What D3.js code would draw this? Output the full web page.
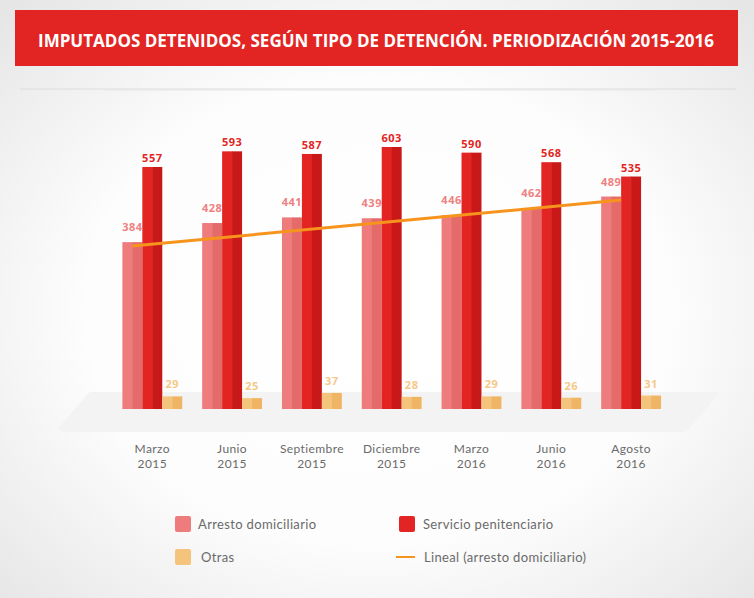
<!DOCTYPE html>
<html><head><meta charset="utf-8">
<script src="https://cdn.jsdelivr.net/npm/d3@7"></script>
<style>html,body{margin:0;padding:0;background:#fff;}svg{display:block;}</style>
</head><body>
<script>
const title = "IMPUTADOS DETENIDOS, SEGÚN TIPO DE DETENCIÓN. PERIODIZACIÓN 2015-2016";
const categories = [["Marzo","2015"],["Junio","2015"],["Septiembre","2015"],["Diciembre","2015"],["Marzo","2016"],["Junio","2016"],["Agosto","2016"]];
const seriesNames = ["Arresto domiciliario","Servicio penitenciario","Otras"];
const arresto = [384,428,441,439,446,462,489];
const servicio = [557,593,587,603,590,568,535];
const otras = [29,25,37,28,29,26,31];
const trendName = "Lineal (arresto domiciliario)";
const trendEnds = [375,481];

const W=754,H=598;
const svg=d3.select("body").append("svg").attr("width",W).attr("height",H);
const defs=svg.append("defs");
const rg=defs.append("radialGradient").attr("id","bg").attr("cx","50%").attr("cy","52%").attr("r","70%");
rg.append("stop").attr("offset","0%").attr("stop-color","#ffffff");
rg.append("stop").attr("offset","55%").attr("stop-color","#fdfdfd");
rg.append("stop").attr("offset","100%").attr("stop-color","#e6e6e6");
svg.append("rect").attr("width",W).attr("height",H).attr("fill","url(#bg)");

// header
svg.append("rect").attr("x",15).attr("y",10).attr("width",723).attr("height",56).attr("fill","#e22522");
svg.append("text").attr("x",376).attr("y",47).attr("text-anchor","middle")
  .attr("font-family","'Open Sans', sans-serif").attr("font-weight",700).attr("font-size",17)
  .attr("fill","#fff").attr("textLength",676).attr("lengthAdjust","spacingAndGlyphs").text(title);
svg.append("line").attr("x1",20).attr("x2",736).attr("y1",89).attr("y2",89).attr("stroke","#dcdcdc").attr("stroke-width",1);
svg.append("line").attr("x1",105).attr("x2",655).attr("y1",90).attr("y2",90).attr("stroke","#e6e6e6").attr("stroke-width",1);

// floor
svg.append("path").attr("d","M92,392 L716,392 Q720,392 717,396 L690,428 Q687,432 682,432 L64,432 Q56,432 60,426 L86,396 Q88,392 92,392 Z")
  .attr("fill","#f3f3f3");

// scales
const x=d3.scaleBand().domain(d3.range(categories.length)).range([112.4,671]).paddingInner(0.25).paddingOuter(0.125);
const xs=d3.scaleBand().domain([0,1,2]).range([0,x.bandwidth()]);
const y=d3.scaleLinear().domain([0,700]).range([409,409-700*0.4345]);

const series=[
 {vals:arresto,light:"#ef7c7c",dark:"#e56b6b",lab:"#ef8080",dy:-11},
 {vals:servicio,light:"#e22522",dark:"#c91818",lab:"#e22522",dy:-5},
 {vals:otras,light:"#f4c47c",dark:"#efb565",lab:"#f5c987",dy:-8}
];
const g=svg.append("g");
series.forEach((s,si)=>{
  const bw=xs.bandwidth();
  const gg=g.append("g");
  gg.selectAll("rect.l").data(s.vals).join("rect")
    .attr("x",(d,i)=>x(i)+xs(si)).attr("y",d=>y(d)).attr("width",bw/2+0.5).attr("height",d=>y(0)-y(d)).attr("fill",s.light);
  gg.selectAll("rect.r").data(s.vals).join("rect")
    .attr("x",(d,i)=>x(i)+xs(si)+bw/2).attr("y",d=>y(d)).attr("width",bw/2).attr("height",d=>y(0)-y(d)).attr("fill",s.dark);
});
// labels
series.forEach((s,si)=>{
  g.append("g").selectAll("text").data(s.vals).join("text")
   .attr("x",(d,i)=>x(i)+xs(si)+xs.bandwidth()/2).attr("y",d=>y(d)+s.dy)
   .attr("text-anchor","middle").attr("font-family","'Open Sans', sans-serif").attr("font-weight",700)
   .attr("font-size",11).attr("letter-spacing",0.5).attr("fill",s.lab).text(d=>d);
});
// trend
const n=categories.length-1;
svg.append("line")
  .attr("x1",x(0)+xs(0)+xs.bandwidth()/2).attr("y1",y(trendEnds[0]))
  .attr("x2",x(n)+xs(1)).attr("y2",y(trendEnds[1]))
  .attr("stroke","#f7941d").attr("stroke-width",3);

// category labels
const cl=svg.append("g").attr("font-family","Lato, sans-serif").attr("font-size",12).attr("letter-spacing",0.4).attr("fill","#6a6a6a");
categories.forEach((c,i)=>{
  const cx=x(i)+x.bandwidth()/2;
  const t=cl.append("text").attr("text-anchor","middle").attr("x",cx);
  t.append("tspan").attr("x",cx).attr("y",453).text(c[0]);
  t.append("tspan").attr("x",cx).attr("y",468).text(c[1]);
});

// legend
const lg=svg.append("g").attr("font-family","Lato, sans-serif").attr("font-size",13).attr("letter-spacing",0.35).attr("fill","#6a6a6a");
const legItems=[
 {type:"sq",color:"#ef7c7c",x:175,y:516,tx:198,label:seriesNames[0]},
 {type:"sq",color:"#e22522",x:399,y:516,tx:423,label:seriesNames[1]},
 {type:"sq",color:"#f4c47c",x:175,y:549,tx:201,label:seriesNames[2]},
 {type:"ln",color:"#f7941d",x:396,y:549,tx:424,label:trendName}
];
legItems.forEach(it=>{
  if(it.type==="sq") lg.append("rect").attr("x",it.x).attr("y",it.y).attr("width",16).attr("height",16).attr("rx",2).attr("fill",it.color);
  else lg.append("line").attr("x1",it.x).attr("x2",it.x+19).attr("y1",it.y+8).attr("y2",it.y+8).attr("stroke",it.color).attr("stroke-width",2);
  lg.append("text").attr("x",it.tx).attr("y",it.y+12.5).text(it.label);
});
</script>
</body></html>
